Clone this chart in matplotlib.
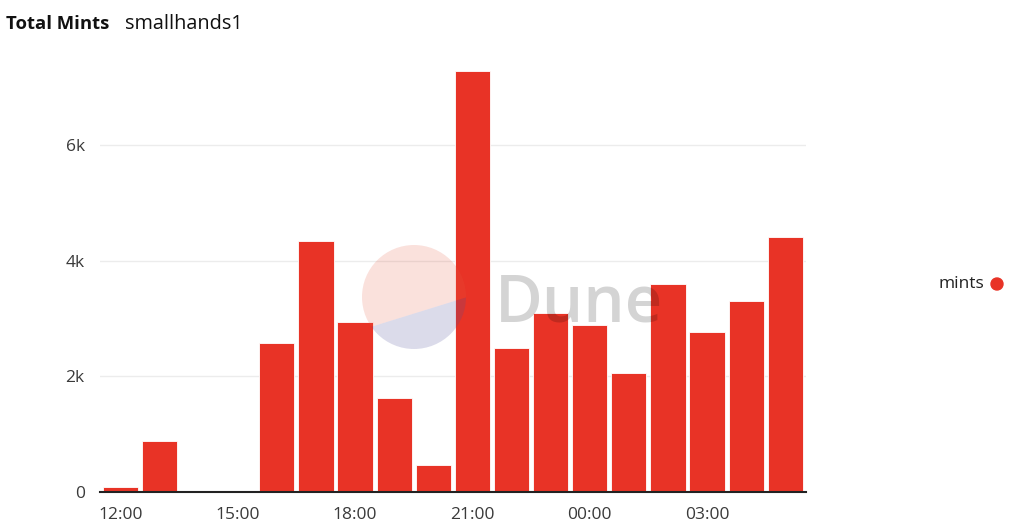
import matplotlib
matplotlib.use("Agg")
import matplotlib.pyplot as plt
from matplotlib.patches import Circle, Polygon
from matplotlib.ticker import FuncFormatter

hours = ["12:00", "13:00", "14:00", "15:00", "16:00", "17:00", "18:00", "19:00", "20:00",
         "21:00", "22:00", "23:00", "00:00", "01:00", "02:00", "03:00", "04:00", "05:00"]
mints = [80, 880, 0, 0, 2580, 4340, 2940, 1625, 470,
         7280, 2485, 3100, 2893, 2058, 3597, 2761, 3303, 4410]
tick_labels = ["12:00", "15:00", "18:00", "21:00", "00:00", "03:00"]
yticks = [0, 2000, 4000, 6000]

plt.rcParams['font.family'] = ['Open Sans', 'DejaVu Sans']

W, H = 1024, 530
fig = plt.figure(figsize=(W / 100, H / 100), dpi=100)
fig.patch.set_facecolor("white")

x0, x1 = 100, 806
yb, yt = 492, 58
ax = fig.add_axes([x0 / W, 1 - yb / H, (x1 - x0) / W, (yb - yt) / H])

xs = list(range(len(hours)))
ax.bar(xs, mints, width=0.9, color="#e83326", edgecolor="white", linewidth=0.6, zorder=3)
ax.set_xlim(-0.52, 17.53)
ax.set_ylim(0, 7500)

pos = [hours.index(t) for t in tick_labels]
ax.set_xticks(pos)
ax.set_xticklabels(tick_labels)
ax.set_yticks(yticks)
ax.yaxis.set_major_formatter(FuncFormatter(lambda v, p: "0" if v == 0 else f"{int(v/1000)}k"))
ax.tick_params(axis="both", length=0, labelsize=12.5, labelcolor="#3a3a3a")
ax.tick_params(axis="x", pad=11)
ax.tick_params(axis="y", pad=11)
ax.grid(axis="y", color="#ececec", linewidth=1, zorder=0)
for s in ["top", "right", "left"]:
    ax.spines[s].set_visible(False)
ax.spines["bottom"].set_color("#222222")
ax.spines["bottom"].set_linewidth(1.5)
ax.spines["bottom"].set_zorder(4)

# Title
fig.text(6 / W, 1 - 24 / H, "Total Mints", fontsize=13.3, fontweight="bold", color="#111111", va="center")
fig.text(125 / W, 1 - 24 / H, "smallhands1", fontsize=14.3, color="#111111", va="center")

# Legend
fig.text(984 / W, 1 - 284 / H, "mints", fontsize=12.5, color="#222222", ha="right", va="center")

# Overlay watermark in pixel coordinates
ov = fig.add_axes([0, 0, 1, 1], zorder=10)
ov.set_xlim(0, W)
ov.set_ylim(H, 0)
ov.axis("off")
ov.patch.set_alpha(0)
ov.add_patch(Circle((997, 284), 6, color="#e83326"))
clip1 = Circle((414, 297), 52, transform=ov.transData)
clip2 = Circle((414, 297), 52, transform=ov.transData)
upper = Polygon([(340, 336.5), (490, 290), (490, 230), (340, 230)], closed=True,
                facecolor=(0.9, 0.35, 0.25), alpha=0.18, edgecolor="none")
lower = Polygon([(340, 336.5), (490, 290), (490, 360), (340, 360)], closed=True,
                facecolor=(0.3, 0.3, 0.6), alpha=0.2, edgecolor="none")
ov.add_patch(upper)
ov.add_patch(lower)
upper.set_clip_path(clip1)
lower.set_clip_path(clip2)
ov.text(495, 322, "Dune", fontsize=47, color="black", alpha=0.17, fontweight="semibold",
        ha="left", va="baseline")

fig.savefig("out.png", dpi=100)
